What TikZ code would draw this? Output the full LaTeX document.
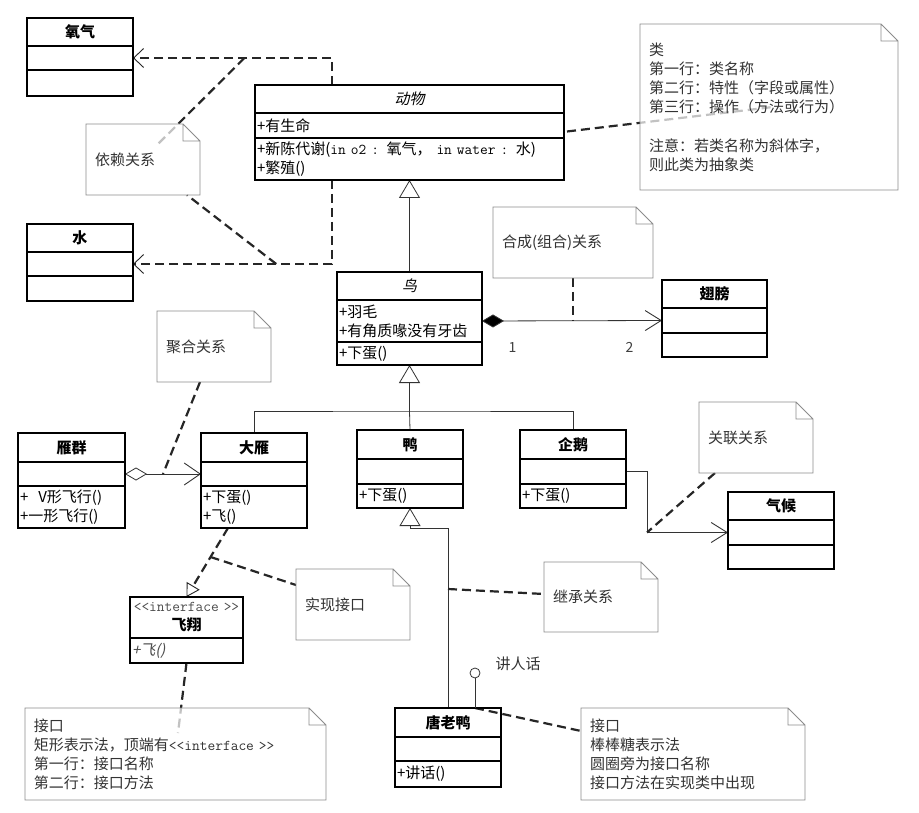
\documentclass[tikz,border=0pt]{standalone}
\usepackage{fontspec}
\setmainfont{Noto Sans CJK SC}[ItalicFont={Noto Sans CJK SC},ItalicFeatures={FakeSlant=0.2}]
\usetikzlibrary{arrows.meta,positioning,backgrounds}

% outline of a UML note with a folded corner
\newcommand{\notefold}[1]{%
  \draw[notebd] (#1.north west) -- ([xshift=-17pt]#1.north east)
    -- ([yshift=-17pt]#1.north east) -- (#1.south east) -- (#1.south west) -- cycle
    ([xshift=-17pt]#1.north east) |- ([yshift=-17pt]#1.north east);}

\begin{document}
\begin{tikzpicture}[
    x=1pt, y=-1pt,
    font=\fontsize{15}{19}\selectfont,
    chead/.style={draw,line width=1.3pt,text width=#1pt,align=center,inner xsep=2pt,
                  inner ysep=2pt,minimum height=28pt,outer sep=0pt,
                  font=\fontsize{15}{19}\selectfont\bfseries},
    ahead/.style={chead=#1,font=\fontsize{15}{19}\selectfont\itshape},
    cpart/.style={draw,line width=1.3pt,text width=#1pt,align=left,inner xsep=2pt,
                  inner ysep=2pt,minimum height=24pt,outer sep=0pt},
    note/.style={text width=#1pt,align=left,inner xsep=9pt,inner ysep=4pt,anchor=north west,
                 fill=white,fill opacity=0.72,text opacity=1,text=black!80,outer sep=0pt},
    notebd/.style={draw=black!45,line width=0.8pt},
    link/.style={line width=2.2pt,dash pattern=on 9pt off 5pt,black!85},
    dep/.style={link,-{Straight Barb[length=10pt,width=19pt,line width=0.9pt]}},
    real/.style={link,-{Triangle[length=13pt,width=15pt,fill=white,line width=0.9pt]}},
    tree/.style={line width=0.8pt,black!80},
    gen/.style={tree,-{Triangle[length=18pt,width=21pt,fill=white]}},
    assoc/.style={tree,-{Straight Barb[length=16pt,width=20pt,line width=0.9pt]}},
    comp/.style={tree,{Diamond[length=22pt,width=13pt,fill=black]}-{Straight Barb[length=16pt,width=20pt,line width=0.9pt]}},
    aggr/.style={tree,{Diamond[length=22pt,width=13pt,fill=white]}-{Straight Barb[length=16pt,width=22pt,line width=0.9pt]}},
    mult/.style={font=\fontsize{14}{15}\selectfont,text=black!75},
  ]
  \useasboundingbox (0,0) rectangle (919,813);

  % classes
  \node[chead=102,anchor=north west] (yq1) at (27,18) {氧气};
  \node[cpart=102,below=0pt of yq1] (yq2) {};
  \node[cpart=102,below=0pt of yq2,minimum height=26pt] (yq3) {};

  \node[chead=102,anchor=north west] (s1) at (27,224) {水};
  \node[cpart=102,below=0pt of s1] (s2) {};
  \node[cpart=102,below=0pt of s2,minimum height=25pt] (s3) {};

  \node[ahead=305,anchor=north west] (dw1) at (255,85) {动物};
  \node[cpart=305,below=0pt of dw1,minimum height=25pt] (dw2) {+有生命};
  \node[cpart=305,below=0pt of dw2,minimum height=42pt] (dw3)
    {+新陈代谢(\texttt{in o2 : }氧气，\texttt{ in water : }水)\\+繁殖()};

  \node[ahead=141,anchor=north west] (nb1) at (337,272) {鸟};
  \node[cpart=141,below=0pt of nb1,minimum height=42pt] (nb2) {+羽毛\\+有角质喙没有牙齿};
  \node[cpart=141,below=0pt of nb2,minimum height=23pt] (nb3) {+下蛋()};

  \node[chead=101,anchor=north west] (cb1) at (662,280) {翅膀};
  \node[cpart=101,below=0pt of cb1,minimum height=25pt] (cb2) {};
  \node[cpart=101,below=0pt of cb2] (cb3) {};

  \node[chead=103,anchor=north west,minimum height=29pt] (yg1) at (18,433) {雁群};
  \node[cpart=103,below=0pt of yg1] (yg2) {};
  \node[cpart=103,below=0pt of yg2,minimum height=42pt] (yg3) {+\ \ V形飞行()\\+一形飞行()};

  \node[chead=102,anchor=north west,minimum height=29pt] (dy1) at (201,433) {大雁};
  \node[cpart=102,below=0pt of dy1] (dy2) {};
  \node[cpart=102,below=0pt of dy2,minimum height=42pt] (dy3) {+下蛋()\\+飞()};

  \node[chead=102,anchor=north west,minimum height=29pt] (ya1) at (357,430) {鸭};
  \node[cpart=102,below=0pt of ya1,minimum height=25pt] (ya2) {};
  \node[cpart=102,below=0pt of ya2] (ya3) {+下蛋()};

  \node[chead=102,anchor=north west,minimum height=29pt] (qe1) at (520,430) {企鹅};
  \node[cpart=102,below=0pt of qe1,minimum height=25pt] (qe2) {};
  \node[cpart=102,below=0pt of qe2] (qe3) {+下蛋()};

  \node[chead=102,anchor=north west] (qh1) at (728,492) {气候};
  \node[cpart=102,below=0pt of qh1,minimum height=25pt] (qh2) {};
  \node[cpart=102,below=0pt of qh2] (qh3) {};

  \node[chead=109,anchor=north west,minimum height=41pt] (fx1) at (130,597)
    {{\mdseries\color{black!70}\texttt{<<interface >>}}\\飞翔};
  \node[cpart=109,below=0pt of fx1,minimum height=25pt,text=black!70] (fx2) {\itshape +飞()};

  \node[chead=102,anchor=north west,minimum height=29pt] (tl1) at (395,708) {唐老鸭};
  \node[cpart=102,below=0pt of tl1] (tl2) {};
  \node[cpart=102,below=0pt of tl2,minimum height=26pt] (tl3) {+讲话()};

  % lollipop interface
  \node[draw,circle,minimum size=10pt,inner sep=0pt,line width=0.8pt,black!80] (lp) at (475,673) {};
  \node[anchor=west,text=black!80] (lpn) at (492,664) {讲人话};
  \draw[tree] (lp.south) -- (lp.south |- tl1.north);

  % notes
  \node[note=96,minimum height=71pt] (yl) at (86,124) {依赖关系};
  \notefold{yl}
  \node[note=240,minimum height=166pt] (ln) at (640,24)
    {类\\第一行：类名称\\第二行：特性（字段或属性）\\第三行：操作（方法或行为）\\[20pt]注意：若类名称为斜体字，\\则此类为抽象类};
  \notefold{ln}
  \node[note=142,minimum height=71pt] (hc) at (493,207) {合成(组合)关系};
  \notefold{hc}
  \node[note=96,minimum height=71pt] (jh) at (157,311) {聚合关系};
  \notefold{jh}
  \node[note=96,minimum height=71pt] (gl) at (699,402) {关联关系};
  \notefold{gl}
  \node[note=96,minimum height=71pt] (sx) at (296,569) {实现接口};
  \notefold{sx}
  \node[note=96,minimum height=70pt] (jc) at (544,562) {继承关系};
  \notefold{jc}
  \node[note=283,minimum height=92pt] (jk) at (25,708)
    {接口\\矩形表示法，顶端有\texttt{<<interface >>}\\第一行：接口名称\\第二行：接口方法};
  \notefold{jk}
  \node[note=206,minimum height=92pt] (ll) at (581,708)
    {接口\\棒棒糖表示法\\圆圈旁为接口名称\\接口方法在实现类中出现};
  \notefold{ll}

  \begin{scope}[on background layer]
    \fill[white] (0,0) rectangle (919,813);
    % dependency
    \draw[dep] ([xshift=77pt]dw1.north west) |- coordinate[pos=0.72] (dep-o) (yq2.east);
    \draw[dep] ([xshift=77pt]dw3.south west) |- coordinate[pos=0.64] (dep-s) (s2.east);
    \draw[link] (dep-o) -- ([shift={(71pt,-21pt)}]yl.north west);
    \draw[link] (dep-s) -- ([xshift=101pt]yl.south west);
    \draw[link] ([shift={(3pt,-6pt)}]dw2.east) -- ([shift={(133pt,-83pt)}]ln.north west);
    % generalization
    \draw[gen] (nb1.north) -- (dw3.south);
    \path (nb3.south) ++(0,46) coordinate (split);
    \draw[gen] (split) -- (nb3.south);
    \draw[tree] (dy1.north) |- (split) -| (qe1.north);
    \draw[tree] (ya1.north) -- (split);
    \path (ya3.south) ++(0,20) coordinate (ih-turn);
    \draw[gen] (tl1.north) |- (ih-turn) -- (ya3.south);
    \path (tl1.north) ++(0,-119) coordinate (ih-mid);
    \draw[link] (ih-mid) -- ([yshift=-32pt]jc.north west);
    % composition
    \draw[comp] (nb2.east) -- node[mult,pos=0.17,below=18pt] {1}
      node[mult,pos=0.82,below=18pt] {2} (cb2.west);
    \draw[link] (hc.south) -- (hc.south |- cb2.west);
    % aggregation
    \draw[aggr] (yg2.east) -- coordinate (agg-mid) (dy2.west);
    \draw[link] ([xshift=43pt]jh.south west) -- (agg-mid);
    % association
    \path (qe2.east) ++(21,0) coordinate (as-turn);
    \draw[assoc] (qe2.east) -- (as-turn) |- coordinate[pos=0.5] (as-bend) (qh2.west);
    \draw[link] ([xshift=16pt]gl.south west) -- (as-bend);
    % realization
    \draw[real] ([xshift=-26pt]dy3.south) -- coordinate[pos=0.42] (re-mid) (fx1.north);
    \draw[link] (re-mid) -- ([yshift=-16pt]sx.north west);
    \draw[link] (fx2.south) -- ([shift={(153pt,-25pt)}]jk.north west);
    % lollipop note
    \draw[link] (lp.south |- tl1.north) -- ([yshift=-23pt]ll.north west);
  \end{scope}
\end{tikzpicture}
\end{document}
